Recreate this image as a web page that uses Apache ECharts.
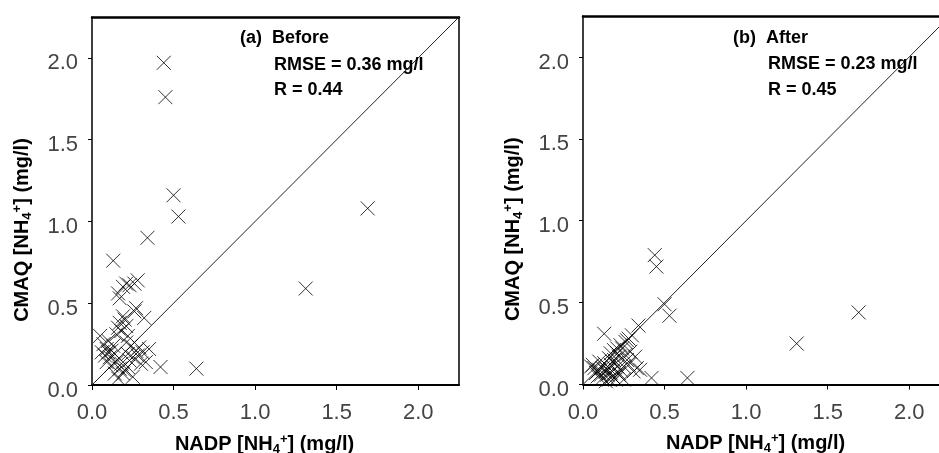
<!DOCTYPE html>
<html><head><meta charset="utf-8">
<script src="https://cdn.jsdelivr.net/npm/echarts@6/dist/echarts.min.js"></script>
<style>html,body{margin:0;padding:0;background:#fff}#c{width:939px;height:453px}</style>
</head><body><div id="c"></div>
<script>
// NADP observed NH4+ (mg/l), one value per site (shared by both panels)
const nadp = [0.44,0.45,0.50,0.53,0.34,0.13,1.69,1.31,0.64,0.42,
              0.35,0.32,0.27,0.28,0.26,0.23,0.19,0.21,0.17,0.16,
              0.26,0.19,0.20,0.17,0.16,0.18,0.15,0.21,0.22,0.05,
              0.07,0.09,0.06,0.10,0.08,0.12,0.11,0.13,0.14,0.09,
              0.12,0.15,0.17,0.18,0.20,0.22,0.19,0.23,0.25,0.27,
              0.29,0.24,0.25,0.28,0.14,0.16,0.31,0.21,0.10,0.30,
              0.22,0.33];
// CMAQ modelled NH4+ before (panel a)
const cmaqBefore = [1.97,1.76,1.16,1.03,0.90,0.76,1.08,0.59,0.10,0.11,
                    0.22,0.41,0.47,0.64,0.62,0.61,0.60,0.62,0.53,0.56,
                    0.45,0.42,0.40,0.38,0.35,0.33,0.31,0.36,0.30,0.30,
                    0.25,0.22,0.20,0.20,0.18,0.21,0.17,0.24,0.19,0.14,
                    0.12,0.14,0.10,0.13,0.09,0.11,0.07,0.15,0.17,0.21,
                    0.23,0.24,0.05,0.18,0.07,0.04,0.20,0.26,0.27,0.13,
                    0.19,0.14];
// CMAQ modelled NH4+ after (panel b)
const cmaqAfter = [0.79,0.72,0.49,0.42,0.36,0.31,0.44,0.25,0.04,0.04,
                   0.09,0.17,0.27,0.28,0.26,0.24,0.21,0.22,0.19,0.16,
                   0.18,0.15,0.13,0.12,0.10,0.14,0.09,0.11,0.07,0.11,
                   0.10,0.08,0.12,0.09,0.07,0.10,0.06,0.13,0.08,0.05,
                   0.04,0.06,0.07,0.05,0.03,0.06,0.04,0.09,0.11,0.15,
                   0.20,0.22,0.03,0.12,0.02,0.03,0.08,0.19,0.14,0.30,
                   0.17,0.10];
const tickLabels = ['0.0','0.5','1.0','1.5','2.0'];
const tickStep = 0.5;
const axisMax = 2.25;
const diagonal = [[0,0],[2.25,2.25]];
const panelTitles = ['(a)  Before','(b)  After'];
const rmseTexts = ['RMSE = 0.36 mg/l','RMSE = 0.23 mg/l'];
const rTexts = ['R = 0.44','R = 0.45'];

const chart = echarts.init(document.getElementById('c'), null, {renderer:'canvas'});
const FONT = "'Liberation Sans', Arial, sans-serif";
const panels = [cmaqBefore, cmaqAfter];
const grids = [
  {left:92, top:17, width:367, height:368, containLabel:false, outerBoundsMode:'none'},
  {left:583, top:16, width:367, height:368.5, containLabel:false, outerBoundsMode:'none'}
];
const nameRich = {
  n:{fontSize:20,fontWeight:'bold',fontFamily:FONT,color:'#000',lineHeight:26},
  sub:{fontSize:13,fontWeight:'bold',fontFamily:FONT,color:'#000',lineHeight:13,padding:[10,0,0,0]},
  sup:{fontSize:13,fontWeight:'bold',fontFamily:FONT,color:'#000',lineHeight:13,padding:[0,0,10,0]}
};
const tickText = v => { const i = Math.round(v/tickStep); return (Math.abs(v-i*tickStep)<1e-6 && tickLabels[i]!==undefined) ? tickLabels[i] : ''; };
const fmtY = v => { const t = tickText(v); return t ? '{t|' + t + '}' : ''; };
const yLabRich = {t:{fontSize:22,color:'#444',fontFamily:FONT,lineHeight:22,padding:[11,0,0,0]}};

const xAxis=[], yAxis=[], series=[], graphic=[];
panels.forEach((vals,g)=>{
  xAxis.push({
    type:'value', gridIndex:g, min:0, max:axisMax, interval:tickStep, position:'bottom',
    axisLine:{show:true,onZero:false,lineStyle:{color:'#000',width:2}},
    axisTick:{show:true,inside:false,length:5,lineStyle:{color:'#000',width:1}},
    axisLabel:{formatter:tickText,showMaxLabel:false,fontSize:22,color:'#444',fontFamily:FONT,margin:17},
    splitLine:{show:false},
    name:'{n|NADP [NH}{sub|4}{sup|+}{n|] (mg/l)}', nameLocation:'middle', nameGap:46,
    nameTextStyle:{rich:nameRich, padding:[0,22,0,0]}
  });
  xAxis.push({
    type:'value', gridIndex:g, min:0, max:axisMax, position:'top',
    axisLine:{show:true,onZero:false,lineStyle:{color:'#000',width:2.5}},
    axisTick:{show:false}, axisLabel:{show:false}, splitLine:{show:false}
  });
  yAxis.push({
    type:'value', gridIndex:g, min:0, max:axisMax, interval:tickStep, position:'left',
    axisLine:{show:true,onZero:false,lineStyle:{color:'#000',width:1.5}},
    axisTick:{show:true,inside:false,length:4,lineStyle:{color:'#000',width:1}},
    axisLabel:{formatter:fmtY,showMaxLabel:false,rich:yLabRich,margin:14},
    splitLine:{show:false},
    name:'{n|CMAQ [NH}{sub|4}{sup|+}{n|] (mg/l)}', nameLocation:'middle', nameGap:57,
    nameTextStyle:{rich:nameRich, padding:[0,58,0,0]}
  });
  yAxis.push({
    type:'value', gridIndex:g, min:0, max:axisMax, position:'right',
    axisLine:{show:true,onZero:false,lineStyle:{color:'#000',width:1.5}},
    axisTick:{show:false}, axisLabel:{show:false}, splitLine:{show:false}
  });
  series.push({
    type:'line', xAxisIndex:g*2, yAxisIndex:g*2, data:diagonal, symbol:'none',
    lineStyle:{color:'#222',width:1}, silent:true, z:1
  });
  series.push({
    type:'scatter', xAxisIndex:g*2, yAxisIndex:g*2,
    data:nadp.map((x,k)=>[x, vals[k]]),
    symbol:'path://M0,0L10,10M10,0L0,10', symbolSize:14,
    itemStyle:{color:'transparent',borderColor:'#000',borderWidth:1},
    emphasis:{disabled:true}, silent:true, z:2
  });
});
const textPos = [
  {tx:240, rx:274, ty:38, my:65, ry:90},
  {tx:733, rx:768, ty:38, my:64.5, ry:90}
];
textPos.forEach((p,g)=>{
  const st = {fontSize:18,fontWeight:'bold',fontFamily:FONT,fill:'#000',verticalAlign:'middle',align:'left'};
  graphic.push({type:'text',x:p.tx,y:p.ty,style:Object.assign({text:panelTitles[g]},st),z:10});
  graphic.push({type:'text',x:p.rx,y:p.my,style:Object.assign({text:rmseTexts[g]},st),z:10});
  graphic.push({type:'text',x:p.rx,y:p.ry,style:Object.assign({text:rTexts[g]},st),z:10});
});

chart.setOption({
  animation:false,
  backgroundColor:'#fff',
  grid:grids,
  xAxis, yAxis, series, graphic
});
</script></body></html>
